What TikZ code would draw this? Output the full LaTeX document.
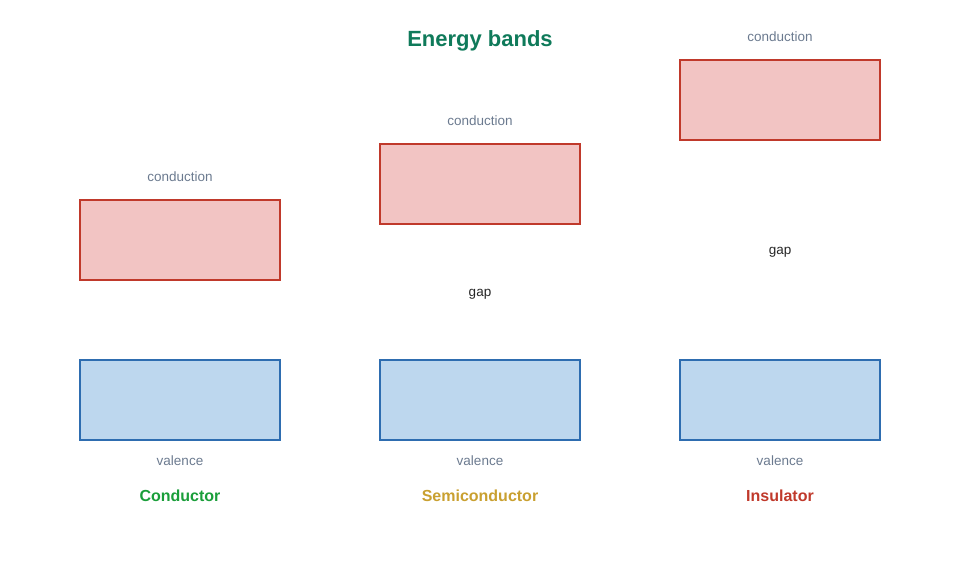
\documentclass[tikz,border=0pt]{standalone}
\usepackage{fontspec}
\setmainfont{Liberation Sans}
\definecolor{cstroke}{HTML}{C0392B}
\definecolor{cfill}{HTML}{F2C4C3}
\definecolor{vstroke}{HTML}{2E6DB0}
\definecolor{vfill}{HTML}{BDD7EE}
\definecolor{lbl}{HTML}{6B7A8F}
\definecolor{ttl}{HTML}{0F7A5A}
\definecolor{cgreen}{HTML}{1A9E3A}
\definecolor{cgold}{HTML}{C9A030}
\definecolor{cred}{HTML}{C0392B}
\begin{document}
\begin{tikzpicture}[x=1pt,y=-1pt,
  cband/.style={draw=cstroke,fill=cfill,line width=1.5pt},
  vband/.style={draw=vstroke,fill=vfill,line width=1.5pt},
  lab/.style={text=lbl,font=\fontsize{13.5pt}{15pt}\selectfont},
  gaplab/.style={text=black!85,font=\fontsize{13.5pt}{15pt}\selectfont},
  kind/.style={font=\bfseries\fontsize{16pt}{18pt}\selectfont}]
\useasboundingbox (0,0) rectangle (960,560);
\node[text=ttl,font=\bfseries\fontsize{22pt}{24pt}\selectfont] (title) at (480,41) {Energy bands};
% conductor
\draw[cband] (80,200) rectangle (280,280) coordinate (c1);
\draw[vband] (80,360) rectangle (280,440) coordinate (v1);
\node[lab] (cl1) at (180,177) {conduction};
\node[lab] (vl1) at (180,461) {valence};
\node[kind,text=cgreen] (k1) at (180,496) {Conductor};
% semiconductor
\draw[cband] (380,144) rectangle (580,224) coordinate (c2);
\draw[vband] (380,360) rectangle (580,440) coordinate (v2);
\node[lab] (cl2) at (480,121) {conduction};
\node[gaplab] (g2) at (480,294) {gap};
\node[lab] (vl2) at (480,461) {valence};
\node[kind,text=cgold] (k2) at (480,496) {Semiconductor};
% insulator
\draw[cband] (680,60) rectangle (880,140) coordinate (c3);
\draw[vband] (680,360) rectangle (880,440) coordinate (v3);
\node[lab] (cl3) at (780,37) {conduction};
\node[gaplab] (g3) at (780,252) {gap};
\node[lab] (vl3) at (780,461) {valence};
\node[kind,text=cred] (k3) at (780,496) {Insulator};
\end{tikzpicture}
\end{document}
